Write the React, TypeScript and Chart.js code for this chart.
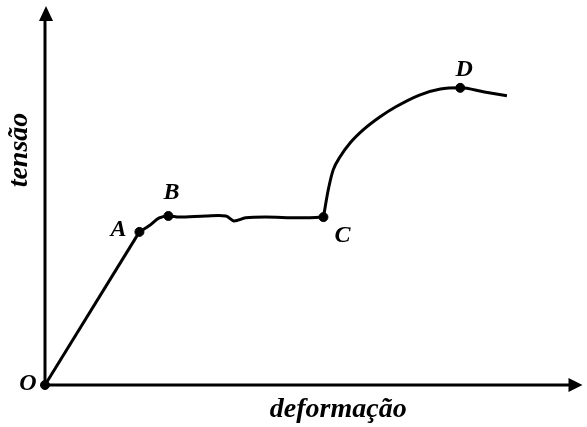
import React, { useEffect, useRef } from 'react';
import { Chart, registerables } from 'chart.js';

Chart.register(...registerables);

// Elastic region O -> A
const elasticX = [0, 17.6];
const elasticY = [0, 40.4];

// Yield plateau A -> B -> C
const plateauX = [17.6, 19.4, 21.3, 23.0, 25.0, 30.0, 33.7, 35.2, 37.4, 41.1, 47.2, 51.9];
const plateauY = [40.4, 42.0, 44.1, 44.6, 44.3, 44.6, 44.6, 43.3, 44.1, 44.3, 44.1, 44.3];

// Strain hardening C -> D -> end
const hardeningX = [51.9, 52.8, 53.7, 55.0, 56.9, 59.3, 62.4, 65.4, 69.8, 73.7, 77.4, 81.9, 86.1];
const hardeningY = [44.3, 51.5, 56.7, 60.2, 63.9, 67.3, 70.7, 73.4, 76.5, 78.1, 78.4, 77.3, 76.3];

// Named points
const markerLabels = ['O', 'A', 'B', 'C', 'D'];
const markerX = [0, 17.6, 23.0, 51.9, 77.4];
const markerY = [0, 40.4, 44.6, 44.3, 78.4];

const xAxisTitle = 'deformação';
const yAxisTitle = 'tensão';

const LABEL_FONT = 'bold italic 24px "Liberation Serif", "Times New Roman", serif';
const TITLE_FONT = 'bold italic 28px "Liberation Serif", "Times New Roman", serif';

const toPts = (xs: number[], ys: number[]) => xs.map((x, i) => ({ x, y: ys[i] }));

// label offsets relative to the marker (style only)
const labelOffsets: Record<string, [number, number]> = {
  O: [-17, -1],
  A: [-21, -2],
  B: [3, -23],
  C: [19, 19],
  D: [4, -18],
};

const axesPlugin = {
  id: 'arrowAxes',
  beforeDatasetsDraw(chart: any) {
    const { ctx, chartArea } = chart;
    const { left, right, top, bottom } = chartArea;
    ctx.save();
    ctx.strokeStyle = '#000';
    ctx.fillStyle = '#000';
    ctx.lineWidth = 3;
    ctx.beginPath();
    ctx.moveTo(left, bottom);
    ctx.lineTo(right - 8, bottom);
    ctx.moveTo(left, bottom);
    ctx.lineTo(left, top + 8);
    ctx.stroke();
    // arrow heads
    ctx.beginPath();
    ctx.moveTo(right + 1, bottom);
    ctx.lineTo(right - 13, bottom - 7);
    ctx.lineTo(right - 13, bottom + 7);
    ctx.closePath();
    ctx.fill();
    ctx.beginPath();
    ctx.moveTo(left + 1, top);
    ctx.lineTo(left - 6, top + 15);
    ctx.lineTo(left + 8, top + 15);
    ctx.closePath();
    ctx.fill();
    ctx.restore();
  },
  afterDraw(chart: any) {
    const { ctx, chartArea } = chart;
    ctx.save();
    ctx.fillStyle = '#000';
    ctx.font = LABEL_FONT;
    ctx.textAlign = 'center';
    ctx.textBaseline = 'middle';
    const meta = chart.getDatasetMeta(3);
    meta.data.forEach((el: any, i: number) => {
      const lab = markerLabels[i];
      const off = labelOffsets[lab] || [0, -16];
      ctx.fillText(lab, el.x + off[0], el.y + off[1]);
    });
    // axis titles
    ctx.font = TITLE_FONT;
    ctx.textBaseline = 'alphabetic';
    ctx.fillText(xAxisTitle, (chartArea.left + chartArea.right) / 2 + 25, chartArea.bottom + 32);
    ctx.translate(chartArea.left - 18, 150);
    ctx.rotate(-Math.PI / 2);
    ctx.fillText(yAxisTitle, 0, 0);
    ctx.restore();
  },
};

export default function App() {
  const ref = useRef<HTMLCanvasElement | null>(null);
  useEffect(() => {
    if (!ref.current) return;
    const lineDs = (data: any[], tension: number, mode: 'default' | 'monotone' = 'default') => ({
      data,
      showLine: true,
      borderColor: '#000',
      borderWidth: 3,
      pointRadius: 0,
      tension,
      cubicInterpolationMode: mode,
      clip: false as any,
    });
    const chart = new Chart(ref.current, {
      type: 'scatter',
      data: {
        datasets: [
          lineDs(toPts(elasticX, elasticY), 0),
          lineDs(toPts(plateauX, plateauY), 0.3),
          lineDs(toPts(hardeningX, hardeningY), 0.4, 'monotone'),
          {
            data: toPts(markerX, markerY),
            showLine: false,
            pointRadius: 4.5,
            pointBackgroundColor: '#000',
            pointBorderColor: '#000',
            clip: false as any,
          },
        ],
      },
      options: {
        responsive: false,
        animation: false,
        layout: { padding: { left: 45, right: 2, top: 6, bottom: 42 } },
        plugins: { legend: { display: false }, tooltip: { enabled: false }, title: { display: false } },
        scales: {
          x: { type: 'linear', min: 0, max: 100, display: false },
          y: { type: 'linear', min: 0, max: 100, display: false },
        },
      },
      plugins: [axesPlugin],
    });
    return () => chart.destroy();
  }, []);
  return (
    <div style={{ position: 'fixed', left: 0, top: 0, width: 587, height: 427, background: '#fff' }}>
      <canvas ref={ref} width={587} height={427} style={{ display: 'block' }} />
    </div>
  );
}
